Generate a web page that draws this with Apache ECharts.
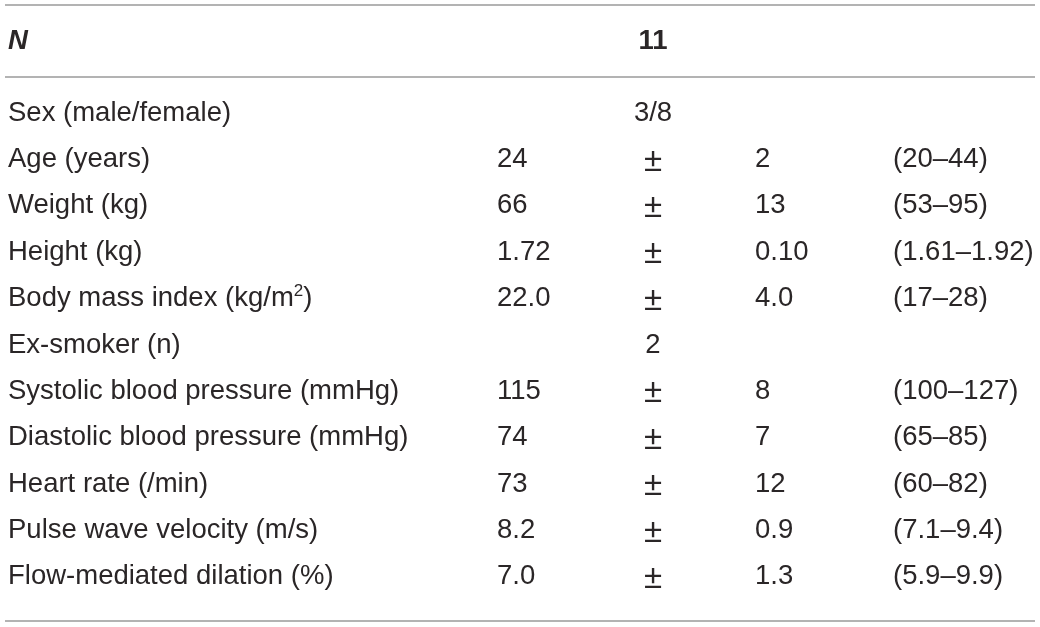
<!doctype html>
<html>
<head>
<meta charset="utf-8">
<title>Participant characteristics</title>
<script src="https://cdn.jsdelivr.net/npm/echarts@6/dist/echarts.min.js"></script>
<style>
html, body { margin: 0; padding: 0; background: #fff; }
#main { width: 1040px; height: 627px; }
</style>
</head>
<body>
<div id="main"></div>
<script>
// table content
var headerLabel = ['N'];
var headerValue = ['11'];
var rowLabels = [
	'Sex (male/female)',
	'Age (years)',
	'Weight (kg)',
	'Height (kg)',
	'Body mass index (kg/m{sup|2})',
	'Ex-smoker (n)',
	'Systolic blood pressure (mmHg)',
	'Diastolic blood pressure (mmHg)',
	'Heart rate (/min)',
	'Pulse wave velocity (m/s)',
	'Flow-mediated dilation (%)'
];
var countVals = ['3/8', '', '', '', '', '2', '', '', '', '', ''];
var meanVals = ['', '24', '66', '1.72', '22.0', '', '115', '74', '73', '8.2', '7.0'];
var sdVals = ['', '2', '13', '0.10', '4.0', '', '8', '7', '12', '0.9', '1.3'];
var rangeVals = ['', '(20–44)', '(53–95)', '(1.61–1.92)', '(17–28)', '', '(100–127)', '(65–85)', '(60–82)', '(7.1–9.4)', '(5.9–9.9)'];

// column positions on the x scale (0..1040 = page width)
var COL = { label: 8, mean: 497, pm: 653, count: 653, sd: 755, range: 893 };
var FONT = '"Liberation Sans", Arial, sans-serif';
var FS = 27.5;
var INK = '#2a2627';
var RULE = '#9a9a9a';

var chart = echarts.init(document.getElementById('main'));

function txt(x, y, s, align, extra) {
	var st = {
		x: x, y: y, text: s, align: align, verticalAlign: 'middle',
		fontSize: FS, fontFamily: FONT, fill: INK,
		rich: { sup: { fontSize: 17, fontFamily: FONT, fill: INK, verticalAlign: 'top', padding: [0, 0, 14, 0] } }
	};
	for (var k in extra) st[k] = extra[k];
	return { type: 'text', style: st };
}

var rowIdx = rowLabels.map(function (d, i) { return [0, i]; });

chart.setOption({
	animation: false,
	grid: [
		{ left: 0, right: 0, top: 5, height: 72 },
		{ left: 0, right: 0, top: 90, height: 510 }
	],
	xAxis: [
		{ gridIndex: 0, type: 'value', min: 0, max: 1040, show: false },
		{ gridIndex: 1, type: 'value', min: 0, max: 1040, show: false }
	],
	yAxis: [
		{ gridIndex: 0, type: 'category', data: headerLabel, show: false },
		{ gridIndex: 1, type: 'category', data: rowLabels, inverse: true, show: false }
	],
	graphic: [
		{ type: 'line', shape: { x1: 5, y1: 5, x2: 1035, y2: 5 }, style: { stroke: RULE, lineWidth: 1.5 } },
		{ type: 'line', shape: { x1: 5, y1: 77, x2: 1035, y2: 77 }, style: { stroke: RULE, lineWidth: 1.5 } },
		{ type: 'line', shape: { x1: 5, y1: 621, x2: 1035, y2: 621 }, style: { stroke: RULE, lineWidth: 1.5 } }
	],
	series: [
		{
			type: 'custom',
			xAxisIndex: 0,
			yAxisIndex: 0,
			data: [[0, 0]],
			renderItem: function (params, api) {
				var y = api.coord([0, 0])[1];
				return {
					type: 'group',
					children: [
						txt(api.coord([COL.label, 0])[0], y, headerLabel[0], 'left', { fontStyle: 'italic', fontWeight: 'bold' }),
						txt(api.coord([COL.count, 0])[0], y, headerValue[0], 'center', { fontWeight: 'bold' })
					]
				};
			}
		},
		{
			type: 'custom',
			xAxisIndex: 1,
			yAxisIndex: 1,
			data: rowIdx,
			renderItem: function (params, api) {
				var i = params.dataIndex;
				var y = api.coord([0, i])[1];
				var kids = [txt(api.coord([COL.label, i])[0], y, rowLabels[i], 'left')];
				if (countVals[i]) kids.push(txt(api.coord([COL.count, i])[0], y, countVals[i], 'center'));
				if (meanVals[i]) {
					kids.push(txt(api.coord([COL.mean, i])[0], y, meanVals[i], 'left'));
					kids.push(txt(api.coord([COL.pm, i])[0], y + 2, '±', 'center', { fontSize: 33 }));
					kids.push(txt(api.coord([COL.sd, i])[0], y, sdVals[i], 'left'));
					kids.push(txt(api.coord([COL.range, i])[0], y, rangeVals[i], 'left'));
				}
				return { type: 'group', children: kids };
			}
		}
	]
});
</script>
</body>
</html>
